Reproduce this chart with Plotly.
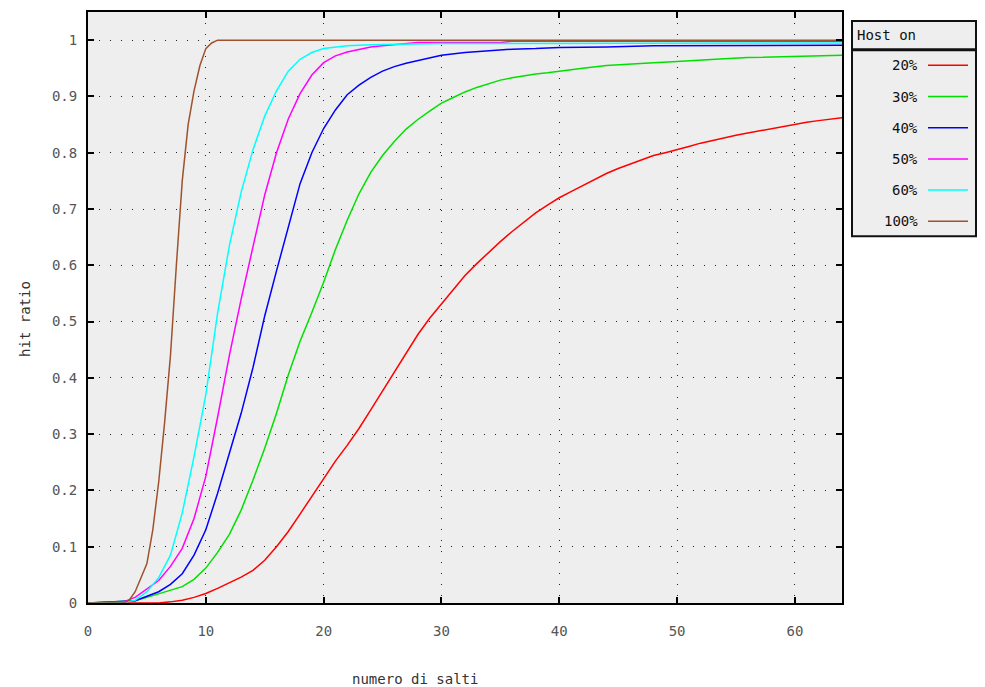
import plotly.graph_objects as go

# ---------------- data ----------------
series_names = ["20%", "30%", "40%", "50%", "60%", "100%"]
series_colors = ["#ff0000", "#00e000", "#0000ff", "#ff00ff", "#00ffff", "#a0522d"]
legend_title = "Host on"
x_title = "numero di salti"
y_title = "hit ratio"

x_red = list(range(0, 65))
y_red = [0, 0, 0, 0, 0, 0, 0, 0.002, 0.005, 0.01, 0.017, 0.026, 0.036, 0.046, 0.058,
         0.076, 0.1, 0.127, 0.158, 0.19, 0.222, 0.252, 0.28, 0.31, 0.343, 0.377,
         0.41, 0.444, 0.477, 0.506, 0.532, 0.558, 0.582, 0.603, 0.623, 0.642, 0.66,
         0.677, 0.693, 0.707, 0.72, 0.731, 0.742, 0.753, 0.763, 0.772, 0.78, 0.788,
         0.795, 0.8, 0.805, 0.811, 0.817, 0.822, 0.827, 0.831, 0.835, 0.839, 0.843,
         0.847, 0.851, 0.854, 0.857, 0.86, 0.862]

x_green = [0, 4, 5, 6, 7, 8, 9, 10, 11, 12, 13, 14, 15, 16, 17, 18, 19, 20, 21, 22,
           23, 24, 25, 26, 27, 28, 29, 30, 31, 32, 33, 34, 35, 36, 37, 38, 39, 40,
           42, 44, 46, 48, 50, 52, 54, 56, 58, 60, 62, 64]
y_green = [0, 0.004, 0.01, 0.016, 0.022, 0.029, 0.042, 0.062, 0.09, 0.122, 0.165, 0.218,
           0.275, 0.337, 0.405, 0.465, 0.516, 0.57, 0.628, 0.68, 0.727, 0.765, 0.795,
           0.82, 0.842, 0.859, 0.874, 0.888, 0.898, 0.908, 0.916, 0.923, 0.929, 0.933,
           0.937, 0.94, 0.942, 0.945, 0.95, 0.955, 0.958, 0.96, 0.962, 0.965, 0.967,
           0.969, 0.97, 0.971, 0.972, 0.973]

x_blue = [0, 4, 5, 6, 7, 8, 9, 10, 11, 12, 13, 14, 15, 16, 17, 18, 19, 20, 21, 22,
          23, 24, 25, 26, 27, 28, 29, 30, 32, 34, 36, 38, 40, 44, 48, 64]
y_blue = [0, 0.004, 0.012, 0.02, 0.033, 0.052, 0.085, 0.13, 0.195, 0.265, 0.337, 0.418,
          0.51, 0.59, 0.67, 0.745, 0.80, 0.843, 0.876, 0.903, 0.92, 0.934, 0.945,
          0.953, 0.959, 0.964, 0.969, 0.973, 0.978, 0.981, 0.984, 0.985, 0.987, 0.988,
          0.99, 0.991]

x_magenta = [0, 3, 4, 5, 6, 7, 8, 9, 10, 11, 12, 13, 14, 15, 16, 17, 18, 19, 20, 21,
             22, 23, 24, 25, 26, 27, 28, 35, 36, 64]
y_magenta = [0, 0.002, 0.01, 0.025, 0.04, 0.065, 0.097, 0.15, 0.225, 0.33, 0.44,
             0.54, 0.635, 0.725, 0.80, 0.86, 0.905, 0.938, 0.96, 0.972, 0.979, 0.984,
             0.988, 0.99, 0.992, 0.994, 0.996, 0.996, 0.998, 0.998]

x_cyan = [0, 3, 4, 5, 6, 7, 8, 9, 10, 11, 12, 13, 14, 15, 16, 17, 18, 19, 20, 21, 22,
          24, 26, 30, 64]
y_cyan = [0, 0.001, 0.005, 0.02, 0.045, 0.085, 0.16, 0.26, 0.37, 0.515, 0.635, 0.73,
          0.805, 0.865, 0.91, 0.945, 0.966, 0.978, 0.985, 0.988, 0.99, 0.992, 0.993,
          0.994, 0.995]

x_brown = [0, 3, 3.5, 4, 4.5, 5, 5.5, 6, 6.5, 7, 7.5, 8, 8.5, 9, 9.5, 10, 10.5, 11, 64]
y_brown = [0, 0, 0.005, 0.02, 0.045, 0.07, 0.13, 0.215, 0.32, 0.44, 0.60, 0.75, 0.85,
           0.91, 0.955, 0.985, 0.995, 1.0, 1.0]

xs = [x_red, x_green, x_blue, x_magenta, x_cyan, x_brown]
ys = [y_red, y_green, y_blue, y_magenta, y_cyan, y_brown]

x_tickvals = [0, 10, 20, 30, 40, 50, 60]
y_tickvals = [0, 0.1, 0.2, 0.3, 0.4, 0.5, 0.6, 0.7, 0.8, 0.9, 1]
y_ticktext = ["0", "0.1", "0.2", "0.3", "0.4", "0.5", "0.6", "0.7", "0.8", "0.9", "1"]

# ---------------- layout geometry (page pixels) ----------------
OFF = 8                      # default body margin of the html page
W, H = 985 - OFF, 687 - OFF  # figure size so it fits the window
PL, PR, PT, PB = 88, 842, 10, 603  # plot area in page pixels
FONT = "DejaVu Sans Mono"


def px_x(px):
    return (px - PL) / (PR - PL)


def px_y(py):
    return (PB - py) / (PB - PT)


fig = go.Figure()
for name, color, xv, yv in zip(series_names, series_colors, xs, ys):
    fig.add_trace(go.Scatter(x=xv, y=yv, mode="lines", name=name,
                             line=dict(color=color, width=1.5), showlegend=False))

axis_common = dict(
    showline=True, linecolor="black", linewidth=2, mirror="ticks",
    ticks="inside", ticklen=6, tickwidth=2, tickcolor="black",
    showgrid=True, gridcolor="#222222", gridwidth=1, griddash="1px,10px",
    zeroline=False, tickfont=dict(family=FONT, size=14, color="#555555"),
)

fig.update_xaxes(range=[0, 64], tickvals=x_tickvals, ticklabelstandoff=14, **axis_common)
fig.update_yaxes(range=[0, 1.05], tickvals=y_tickvals, ticktext=y_ticktext,
                 ticklabelstandoff=6, **axis_common)

shapes = []
annotations = []

# axis titles
annotations.append(dict(text=x_title, xref="paper", yref="paper", x=px_x(415), y=px_y(679),
                        showarrow=False, font=dict(family=FONT, size=14, color="#333333"),
                        xanchor="center", yanchor="middle"))
annotations.append(dict(text=y_title, xref="paper", yref="paper", x=px_x(25), y=px_y(318),
                        showarrow=False, textangle=-90,
                        font=dict(family=FONT, size=14, color="#333333"),
                        xanchor="center", yanchor="middle"))

# custom legend box
LX0, LX1, LY0, LY1, LHY = 852, 976, 19, 235, 48
shapes.append(dict(type="rect", xref="paper", yref="paper",
                   x0=px_x(LX0), x1=px_x(LX1), y0=px_y(LY1), y1=px_y(LY0),
                   line=dict(color="#111111", width=2), fillcolor="#eeeeee", layer="above"))
shapes.append(dict(type="line", xref="paper", yref="paper",
                   x0=px_x(LX0), x1=px_x(LX1), y0=px_y(LHY), y1=px_y(LHY),
                   line=dict(color="#111111", width=3), layer="above"))
annotations.append(dict(text=legend_title, xref="paper", yref="paper",
                        x=px_x(855), y=px_y(33), showarrow=False,
                        xanchor="left", yanchor="middle",
                        font=dict(family=FONT, size=14, color="#111111")))
for i, (name, color) in enumerate(zip(series_names, series_colors)):
    ey = 63.5 + i * 31.3
    annotations.append(dict(text=name, xref="paper", yref="paper",
                            x=px_x(920), y=px_y(ey), showarrow=False,
                            xanchor="right", yanchor="middle",
                            font=dict(family=FONT, size=14, color="#111111")))
    shapes.append(dict(type="line", xref="paper", yref="paper",
                       x0=px_x(928), x1=px_x(968), y0=px_y(ey), y1=px_y(ey),
                       line=dict(color=color, width=1.5), layer="above"))

fig.update_layout(
    width=W, height=H, autosize=False,
    margin=dict(l=PL - OFF, r=(W + OFF) - PR, t=PT - OFF, b=(H + OFF) - PB, pad=0),
    paper_bgcolor="white", plot_bgcolor="#eeeeee",
    showlegend=False, shapes=shapes, annotations=annotations,
    font=dict(family=FONT, size=14, color="#333333"),
)

fig.write_html("out.html")
